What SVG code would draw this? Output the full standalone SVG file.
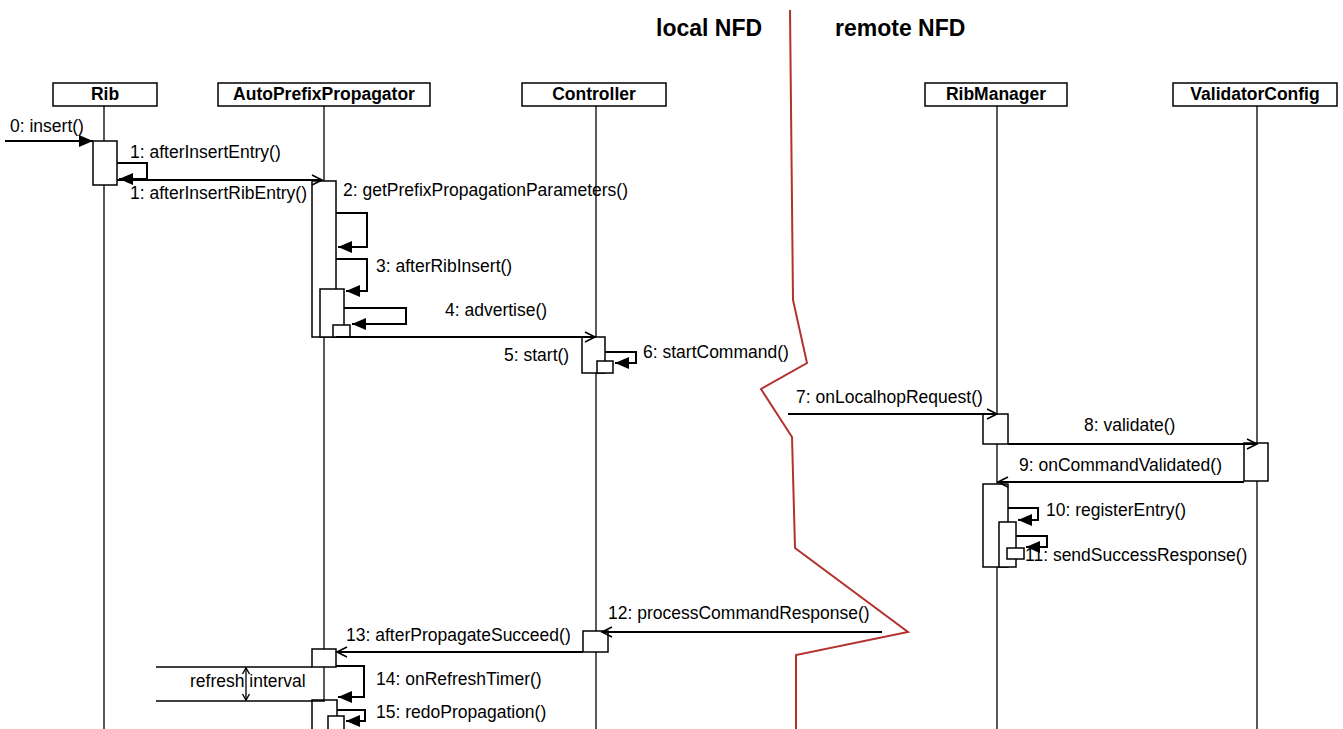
<svg xmlns="http://www.w3.org/2000/svg" width="1343" height="729" viewBox="0 0 1343 729">
<style>
.bg{fill:#fff}
.box{fill:#fff;stroke:#000;stroke-width:1.5}
.life{stroke:#000;stroke-width:1.3;fill:none}
.msg{fill:none;stroke:#000;stroke-width:2}
.self{fill:none;stroke:#000;stroke-width:2;marker-end:url(#fa)}
.call{fill:none;stroke:#000;stroke-width:2;marker-end:url(#oa)}
.t{font-family:"Liberation Sans",Arial,Helvetica,sans-serif;font-size:17.5px;fill:#000}
.h{font-family:"Liberation Sans",Arial,Helvetica,sans-serif;font-size:17.5px;font-weight:bold;text-anchor:middle;fill:#000}
.title{font-family:"Liberation Sans",Arial,Helvetica,sans-serif;font-size:23px;font-weight:bold;fill:#000}
.red{fill:none;stroke:#b3322e;stroke-width:2}
</style>
<defs>
<marker id="fa" markerUnits="userSpaceOnUse" markerWidth="16" markerHeight="12" refX="14" refY="6" orient="auto">
<path d="M0,0 L14,6 L0,12 Z" fill="#000"/>
</marker>
<marker id="oa" markerUnits="userSpaceOnUse" markerWidth="14" markerHeight="12" refX="11" refY="6" orient="auto">
<path d="M1,1 L11,6 L1,11" fill="none" stroke="#000" stroke-width="1.6"/>
</marker>
<marker id="sa" markerUnits="userSpaceOnUse" markerWidth="10" markerHeight="10" refX="7" refY="5" orient="auto-start-reverse">
<path d="M1,1.5 L7,5 L1,8.5" fill="none" stroke="#000" stroke-width="1.4"/>
</marker>
</defs>
<rect class="bg" x="0" y="0" width="1343" height="729"/>

<g id="titles">
<text class="title" x="656" y="36">local NFD</text>
<text class="title" x="835" y="36">remote NFD</text>
</g>

<g id="boundary">
<polyline class="red" points="790,10 793,300 807,363 761,389 792,437 795,548 908,632 796,655 796,729"/>
</g>

<g id="Rib">
<line class="life" x1="104" y1="106" x2="104" y2="729"/>
<rect class="box" x="53" y="83" width="104" height="23"/>
<text class="h" x="105" y="100">Rib</text>
<rect class="box" x="93" y="141" width="24" height="44"/>
</g>

<g id="AutoPrefixPropagator">
<line class="life" x1="324" y1="106" x2="324" y2="729"/>
<rect class="box" x="218" y="83" width="212" height="23"/>
<text class="h" x="324" y="100">AutoPrefixPropagator</text>
<rect class="box" x="312" y="181" width="24" height="156"/>
<rect class="box" x="320" y="289" width="24" height="48"/>
<rect class="box" x="333" y="325" width="17" height="12"/>
<rect class="box" x="312" y="649" width="24" height="18"/>
<rect class="box" x="312" y="700" width="25" height="40"/>
<rect class="box" x="328" y="716" width="16" height="24"/>
</g>

<g id="Controller">
<line class="life" x1="596" y1="106" x2="596" y2="729"/>
<rect class="box" x="522" y="83" width="144" height="23"/>
<text class="h" x="594" y="100">Controller</text>
<rect class="box" x="582" y="337" width="23" height="36"/>
<rect class="box" x="597" y="361" width="16" height="12"/>
<rect class="box" x="583" y="631" width="25" height="21"/>
</g>

<g id="RibManager">
<line class="life" x1="997" y1="106" x2="997" y2="729"/>
<rect class="box" x="925" y="83" width="142" height="23"/>
<text class="h" x="996" y="100">RibManager</text>
<rect class="box" x="983" y="414" width="25" height="30"/>
<rect class="box" x="983" y="484" width="25" height="83"/>
<rect class="box" x="999" y="522" width="17" height="45"/>
<rect class="box" x="1007" y="548" width="17" height="11"/>
</g>

<g id="ValidatorConfig">
<line class="life" x1="1257" y1="106" x2="1257" y2="729"/>
<rect class="box" x="1173" y="83" width="164" height="23"/>
<text class="h" x="1255" y="100">ValidatorConfig</text>
<rect class="box" x="1244" y="443" width="24" height="38"/>
</g>

<g id="connectors">
<line class="msg" x1="5" y1="141" x2="93" y2="141" style="marker-end:url(#fa)"/>
<path class="self" d="M117,163 H147 V179 H119"/>
<line class="call" x1="117" y1="180" x2="322" y2="180"/>
<path class="self" d="M336,213 H367 V247 H338"/>
<path class="self" d="M336,259 H367 V291 H346"/>
<path class="self" d="M344,308 H406 V324 H352"/>
<line class="call" x1="336" y1="337" x2="595" y2="337"/>
<path class="self" d="M605,352 H636 V363 H615"/>
<line class="call" x1="788" y1="414" x2="997" y2="414"/>
<line class="call" x1="1008" y1="444" x2="1257" y2="444"/>
<line class="call" x1="1244" y1="482" x2="998" y2="482"/>
<path class="self" d="M1008,508 H1038 V520 H1018"/>
<path class="self" d="M1016,536 H1047 V547 H1026"/>
<line class="call" x1="882" y1="632" x2="602" y2="632"/>
<line class="call" x1="583" y1="652" x2="337" y2="652"/>
<path class="self" d="M336,666 H364 V697 H338"/>
<path class="self" d="M337,710 H365 V721 H346"/>
<line class="life" x1="156" y1="667" x2="312" y2="667" style="stroke-width:1.5"/>
<line class="life" x1="156" y1="701" x2="325" y2="701" style="stroke-width:1.5"/>
<line class="life" x1="246" y1="668" x2="246" y2="700" style="marker-start:url(#sa);marker-end:url(#sa)"/>
</g>

<g id="labels">
<text class="t" x="10" y="132">0: insert()</text>
<text class="t" x="130" y="158">1: afterInsertEntry()</text>
<text class="t" x="130" y="199">1: afterInsertRibEntry()</text>
<text class="t" x="343" y="196">2: getPrefixPropagationParameters()</text>
<text class="t" x="376" y="272">3: afterRibInsert()</text>
<text class="t" x="445" y="316">4: advertise()</text>
<text class="t" x="504" y="361">5: start()</text>
<text class="t" x="643" y="358">6: startCommand()</text>
<text class="t" x="796" y="403">7: onLocalhopRequest()</text>
<text class="t" x="1084" y="431">8: validate()</text>
<text class="t" x="1019" y="471">9: onCommandValidated()</text>
<text class="t" x="1046" y="516">10: registerEntry()</text>
<text class="t" x="1025" y="561">11: sendSuccessResponse()</text>
<text class="t" x="608" y="619">12: processCommandResponse()</text>
<text class="t" x="346" y="641">13: afterPropagateSucceed()</text>
<text class="t" x="376" y="685">14: onRefreshTimer()</text>
<text class="t" x="190" y="687">refresh interval</text>
<text class="t" x="376" y="718">15: redoPropagation()</text>
</g>
</svg>
